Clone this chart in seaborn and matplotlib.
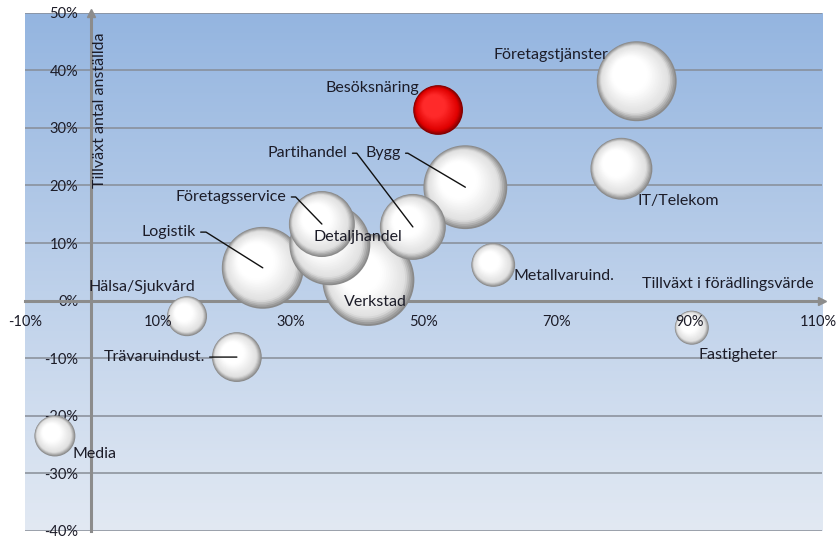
import numpy as np
import pandas as pd
import matplotlib
matplotlib.use("Agg")
import matplotlib.pyplot as plt
import matplotlib.transforms as mtransforms
from matplotlib.colors import to_rgb
import seaborn as sns

# Branscher: tillväxt i förädlingsvärde (x), tillväxt antal anställda (y), storlek (bubbla)
branscher = ["Verkstad", "Bygg", "Logistik", "Detaljhandel", "Företagstjänster",
             "Partihandel", "Företagsservice", "IT/Telekom", "Trävaruindust.",
             "Besöksnäring", "Metallvaruind.", "Media", "Hälsa/Sjukvård", "Fastigheter"]
foradlingsvarde = [41.7, 56.3, 25.8, 35.9, 82.1, 48.4, 34.7, 79.8, 21.9, 52.2, 60.5, -5.5, 14.4, 90.4]
anstallda = [3.6, 19.7, 5.7, 9.7, 38.1, 12.8, 13.3, 22.9, -9.8, 33.1, 6.2, -23.5, -2.7, -4.7]
storlek = [212, 176, 168, 164, 160, 109, 109, 96, 62, 62, 48, 42, 40, 29]
markerad = "Besöksnäring"

x_ticks = [-10, 10, 30, 50, 70, 90, 110]
y_ticks = [-40, -30, -20, -10, 0, 10, 20, 30, 40, 50]
x_titel = "Tillväxt i förädlingsvärde"
y_titel = "Tillväxt antal anställda"

# label placement: (x, y, ha, leader)
etiketter = {
    "Företagstjänster": (60.5, 42.7, "left", None),
    "Besöksnäring": (35.2, 36.9, "left", None),
    "IT/Telekom": (82.2, 17.3, "left", None),
    "Detaljhandel": (33.4, 11.1, "left", None),
    "Verkstad": (38.0, -0.2, "left", None),
    "Metallvaruind.": (63.6, 4.2, "left", None),
    "Hälsa/Sjukvård": (-0.5, 2.4, "left", None),
    "Fastigheter": (91.4, -9.4, "left", None),
    "Media": (-2.8, -26.6, "left", None),
    "Partihandel": (38.6, 25.6, "right", 9),
    "Bygg": (46.6, 25.6, "right", 7),
    "Företagsservice": (29.4, 18.0, "right", 9),
    "Logistik": (15.75, 11.9, "right", 10),
    "Trävaruindust.": (17.1, -9.8, "right", 0),
}

df = pd.DataFrame({"bransch": branscher, "x": foradlingsvarde,
                   "y": anstallda, "storlek": storlek})
df = df.sort_values("storlek", ascending=False).reset_index(drop=True)

sns.set_style("white")
plt.rcParams["font.family"] = ["Lato", "DejaVu Sans"]
textfarg = "#1c1c28"
axelfarg = "#8c8c8c"
etikettstorlek = 11.5

fig = plt.figure(figsize=(8.38, 5.38), dpi=100)
ax = fig.add_axes([25 / 838, 1 - 531 / 538, 797 / 838, 518.3 / 538])

# gradient plot background
topp = np.array(to_rgb("#94b5e0"))
botten = np.array(to_rgb("#e2e9f3"))
g = np.linspace(0, 1, 256)[:, None, None]
ax.imshow(topp + (botten - topp) * g, extent=[0, 1, 0, 1], transform=ax.transAxes,
          aspect="auto", zorder=0, interpolation="bilinear")
ax.set_xlim(-10, 110)
ax.set_ylim(-40, 50)

# axes crossing at origin
for side in ["top", "right"]:
    ax.spines[side].set_visible(False)
for side in ["left", "bottom"]:
    ax.spines[side].set_position(("data", 0))
    ax.spines[side].set_color(axelfarg)
    ax.spines[side].set_linewidth(2.2)
    ax.spines[side].set_zorder(1)
ax.plot([0], [50], marker="^", ms=6, color=axelfarg, clip_on=False, zorder=1)
ax.plot([110], [0], marker=">", ms=6, color=axelfarg, clip_on=False, zorder=1)

ax.set_xticks(x_ticks)
ax.set_xticklabels([f"{v}%" for v in x_ticks])
ax.set_yticks(y_ticks)
ax.set_yticklabels([f"{v}%" for v in y_ticks])
ax.tick_params(axis="both", colors=axelfarg, labelcolor=textfarg, labelsize=10.5,
               length=3, width=1.2, direction="out")
ax.tick_params(axis="x", pad=7)
ax.tick_params(axis="y", pad=6.5)
ax.yaxis.grid(True, color="#878d97", lw=1.1)
ax.xaxis.grid(False)
ax.set_axisbelow(True)
ax.xaxis.set_zorder(50)  # x tick labels stay readable over the bubbles
ax.set_xlabel("")
ax.set_ylabel("")
# keep the last x tick label inside the figure edge
sista = ax.get_xticklabels()[-1]
sista.set_transform(sista.get_transform() + mtransforms.ScaledTranslation(-3 / 72, 0, fig.dpi_scale_trans))

# shaded spheres
k = 20.7  # pt^2 per size unit


def blanda(a, b, t):
    a, b = np.array(to_rgb(a)), np.array(to_rgb(b))
    return tuple(a + (b - a) * t)


def farg(t, kant, mitt, centrum):
    if t < 0.14:
        return blanda(kant, mitt, t / 0.14)
    return blanda(mitt, centrum, min(1.0, (t - 0.14) / 0.4))


for i, rad in df.iterrows():
    s = k * rad["storlek"]
    R = np.sqrt(s) / 2  # radius in points
    if rad["bransch"] == markerad:
        kant, mitt, centrum = "#800000", "#e00000", "#ff2a2a"
    else:
        kant, mitt, centrum = "#8a8a8a", "#e0e0e0", "#ffffff"
    z = 3 + i
    sns.scatterplot(x=[rad["x"]], y=[rad["y"]], s=s, color=kant, edgecolor="none",
                    linewidth=0, ax=ax, legend=False, zorder=z)
    for f in np.linspace(0.97, 0.06, 30):
        t = 1 - f
        tr = mtransforms.offset_copy(ax.transData, fig=fig, x=-0.3 * t * R,
                                     y=0.3 * t * R, units="points")
        ax.scatter([rad["x"]], [rad["y"]], s=s * f * f, color=[farg(t, kant, mitt, centrum)],
                   edgecolors="none", linewidths=0, transform=tr, zorder=z + 0.01 + 0.02 * t)

# labels and leader lines
pos = dict(zip(df["bransch"], zip(df["x"], df["y"])))
for namn, (tx, ty, ha, krok) in etiketter.items():
    bx, by = pos[namn]
    if krok is None:
        ax.text(tx, ty, namn, ha=ha, va="center", fontsize=etikettstorlek, color=textfarg, zorder=100)
        continue
    if krok == 0:
        stil = "arc3,rad=0"
    else:
        p = ax.transData.transform((tx, ty))
        b = ax.transData.transform((bx, by))
        horn = p + np.array([krok, 0.0])
        vinkel = np.degrees(np.arctan2(horn[1] - b[1], horn[0] - b[0]))
        stil = f"angle,angleA=0,angleB={vinkel:.2f},rad=0"
    ax.annotate(namn, xy=(bx, by), xytext=(tx, ty), ha=ha, va="center",
                fontsize=etikettstorlek, color=textfarg, zorder=100,
                arrowprops=dict(arrowstyle="-", color="#111111", lw=1.0,
                                shrinkA=1, shrinkB=0, connectionstyle=stil))

ax.text(82.9, 2.9, x_titel, ha="left", va="center", fontsize=etikettstorlek, color=textfarg, zorder=100)
ax.text(1.3, 33.1, y_titel, ha="center", va="center", rotation=90, fontsize=etikettstorlek,
        color=textfarg, zorder=100)

fig.savefig("out.png", dpi=100)
